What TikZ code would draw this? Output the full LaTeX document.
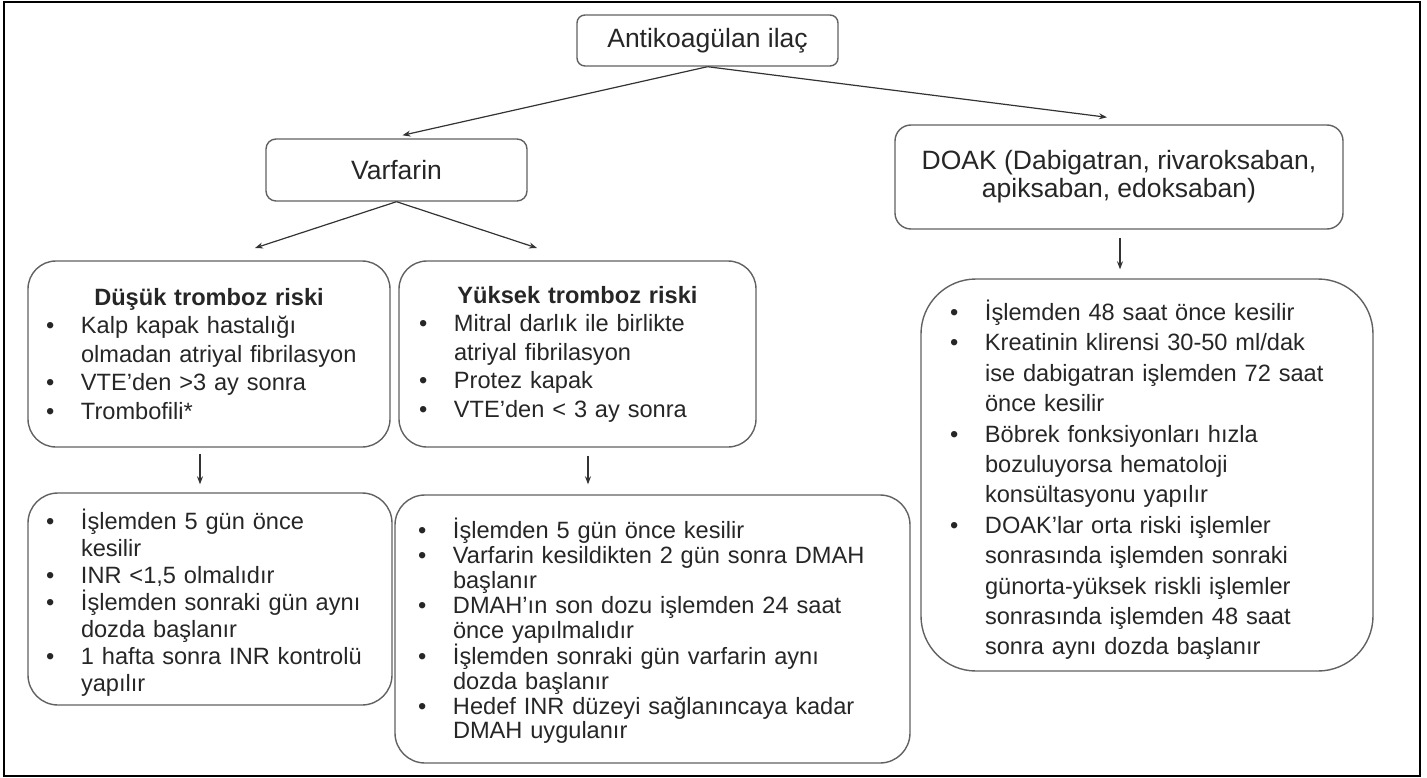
\documentclass[tikz,border=0pt]{standalone}
\usepackage{fontspec}
\setmainfont{Liberation Sans}
\usetikzlibrary{arrows.meta}

\definecolor{txt}{gray}{0.15}
\definecolor{boxline}{gray}{0.38}
\definecolor{arrline}{gray}{0.2}

\newcommand{\bul}{\par\hangindent=35pt\hangafter=1\noindent\makebox[35pt][l]{\textbullet}}
\newcommand{\listfont}[1]{\fontsize{23.6pt}{#1}\selectfont}

\tikzset{
  rbox/.style={draw=boxline, line width=1.4pt, rounded corners=#1, text=txt, inner ysep=0pt},
  head/.style={font=\fontsize{26.5pt}{28pt}\selectfont, align=center},
  blist/.style={align=left, inner xsep=#1},
  arr/.style={draw=arrline, line width=1.2pt, -{Stealth[length=8pt,width=6pt]}},
}

\begin{document}
\begin{tikzpicture}[x=1pt, y=-1pt]
    \useasboundingbox (0,0) rectangle (1427,778);
    \draw[line width=1.5pt] (4,2) rectangle (1420,776);

    % drug choice
    \node[rbox=8pt, head, minimum width=261pt, minimum height=51pt] (anti) at (707.5,40.5) {Antikoagülan ilaç};
    \node[rbox=10pt, head, minimum width=261pt, minimum height=62pt] (varf) at (396.5,170) {Varfarin};
    \node[rbox=16pt, head, minimum width=448pt, minimum height=104pt] (doak) at (1119,177) {DOAK (Dabigatran, rivaroksaban,\\ apiksaban, edoksaban)};

    % thrombosis risk
    \node[rbox=28pt, blist=18pt, text width=326pt, minimum height=186pt, font=\listfont{28.5pt}] (low) at (209,354) {%
        {\centering\textbf{Düşük tromboz riski}\par}
        \bul Kalp kapak hastalığı\newline olmadan atriyal fibrilasyon
        \bul VTE’den >3 ay sonra
        \bul Trombofili*\par};
    \node[rbox=28pt, blist=20pt, text width=317pt, minimum height=186pt, font=\listfont{28.5pt}] (high) at (577.5,354) {%
        {\centering\textbf{Yüksek tromboz riski}\par}
        \bul Mitral darlık ile birlikte\newline atriyal fibrilasyon
        \bul Protez kapak
        \bul VTE’den < 3 ay sonra\par};

    % management
    \node[rbox=30pt, blist=18pt, text width=328pt, minimum height=212pt, font=\listfont{27pt}] (lowStep) at (210,599) {%
        \bul İşlemden 5 gün önce\newline kesilir
        \bul INR <1,5 olmalıdır
        \bul İşlemden sonraki gün aynı\newline dozda başlanır
        \bul 1 hafta sonra INR kontrolü\newline yapılır\par};
    \node[rbox=30pt, blist=23pt, text width=469pt, minimum height=268pt, font=\listfont{24.8pt}] (highStep) at (652.5,629) {%
        \bul İşlemden 5 gün önce kesilir
        \bul Varfarin kesildikten 2 gün sonra DMAH\newline başlanır
        \bul DMAH’ın son dozu işlemden 24 saat\newline önce yapılmalıdır
        \bul İşlemden sonraki gün varfarin aynı\newline dozda başlanır
        \bul Hedef INR düzeyi sağlanıncaya kadar\newline DMAH uygulanır\par};
    \node[rbox=55pt, blist=29pt, text width=394pt, minimum height=392pt, font=\listfont{30.4pt}] (doakStep) at (1147,475) {%
        \bul İşlemden 48 saat önce kesilir
        \bul Kreatinin klirensi 30-50 ml/dak\newline ise dabigatran işlemden 72 saat\newline önce kesilir
        \bul Böbrek fonksiyonları hızla\newline bozuluyorsa hematoloji\newline konsültasyonu yapılır
        \bul DOAK'lar orta riski işlemler\newline sonrasında işlemden sonraki\newline günorta-yüksek riskli işlemler\newline sonrasında işlemden 48 saat\newline sonra aynı dozda başlanır\par};

    \coordinate (lowIn) at (255,248);
    \coordinate (highIn) at (537,248);

    \draw
        (anti.south) edge[arr] ([xshift=6pt,yshift=3pt]varf.north)
        (anti.south) edge[arr] ([xshift=-12pt,yshift=7pt]doak.north)
        (varf.south) edge[arr] (lowIn)
        (varf.south) edge[arr] (highIn)
        ([xshift=-9pt]low.south) edge[arr, shorten <=6pt, shorten >=8pt] ([xshift=-10pt]lowStep.north)
        ([xshift=10.5pt]high.south) edge[arr, shorten <=8pt, shorten >=10pt] ([xshift=-64.5pt]highStep.north)
        ([xshift=1pt]doak.south) edge[arr, shorten <=8pt, shorten >=9pt] ([xshift=-27pt]doakStep.north)
        ;
\end{tikzpicture}
\end{document}
